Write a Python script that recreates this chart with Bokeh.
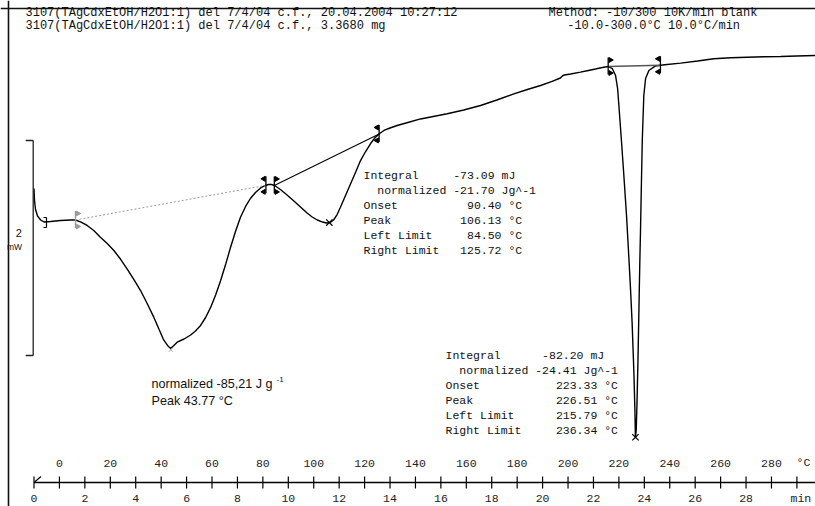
import numpy as np
from bokeh.plotting import figure
from bokeh.models import Range1d, Span
from bokeh.embed import file_html
from bokeh.resources import INLINE
from bokeh.core.properties import value

# ---------------- data ----------------
time_min = [0.00, 0.02, 0.06, 0.14, 0.26, 0.41, 0.65, 1.04, 1.44, 1.63,
            1.85, 2.09, 2.35, 2.61, 2.88, 3.14, 3.40, 3.66, 3.93, 4.19,
            4.45, 4.71, 4.92, 5.10, 5.25, 5.37, 5.50, 5.63, 5.90, 6.16,
            6.35, 6.55, 6.75, 6.95, 7.15, 7.34, 7.54, 7.73, 7.93, 8.12,
            8.32, 8.51, 8.71, 8.91, 9.10, 9.22, 9.34, 9.46, 9.69, 9.95,
            10.22, 10.48, 10.74, 10.94, 11.14, 11.35, 11.50, 11.65, 11.78, 11.92,
            12.05, 12.25, 12.45, 12.65, 12.84, 13.04, 13.23, 13.40, 13.57, 13.76,
            14.00, 14.28, 14.70, 15.20, 15.70, 16.25, 16.90, 17.56, 18.20, 18.87,
            19.40, 19.92, 20.35, 20.70, 20.80, 20.86, 21.10, 21.49, 21.80, 22.08,
            22.35, 22.58, 22.74, 22.87, 22.95, 23.00, 23.10, 23.19, 23.30, 23.39,
            23.46, 23.52, 23.59, 23.63, 23.65, 23.68, 23.71, 23.75, 23.78, 23.82,
            23.85, 23.88, 23.92, 23.98, 24.05, 24.18, 24.44, 24.80, 25.43, 26.10,
            26.73, 27.40, 28.05, 28.70, 29.36, 30.00, 30.73]
heat_flow_mw = [1.600, 1.488, 1.405, 1.344, 1.307, 1.288, 1.293, 1.302, 1.307, 1.307,
                1.288, 1.256, 1.209, 1.147, 1.088, 1.023, 0.944, 0.853, 0.753, 0.651,
                0.530, 0.403, 0.288, 0.191, 0.140, 0.112, 0.140, 0.170, 0.200, 0.237,
                0.274, 0.326, 0.400, 0.496, 0.614, 0.744, 0.898, 1.053, 1.205, 1.333,
                1.433, 1.507, 1.563, 1.605, 1.628, 1.637, 1.637, 1.628, 1.591, 1.540,
                1.484, 1.428, 1.372, 1.335, 1.307, 1.288, 1.279, 1.284, 1.307, 1.358,
                1.426, 1.535, 1.644, 1.753, 1.860, 1.944, 2.016, 2.070, 2.107, 2.140,
                2.163, 2.186, 2.214, 2.247, 2.270, 2.295, 2.330, 2.372, 2.423, 2.481,
                2.521, 2.558, 2.595, 2.628, 2.651, 2.656, 2.665, 2.682, 2.698, 2.712,
                2.726, 2.735, 2.716, 2.651, 2.530, 2.372, 2.047, 1.740, 1.349, 0.967,
                0.651, 0.353, -0.112, -0.465, -0.716, -0.651, -0.419, 0.000, 0.372, 0.884,
                1.209, 1.581, 2.047, 2.465, 2.623, 2.698, 2.740, 2.751, 2.766, 2.786,
                2.807, 2.816, 2.821, 2.825, 2.828, 2.833, 2.837]

T_START_C = -10.0      # method start temperature
RATE_C_PER_MIN = 10.0  # heating rate
SCALE_MW = 2           # scale bar

header_left = ["3107(TAgCdxEtOH/H2O1:1) del 7/4/04 c.f., 20.04.2004 10:27:12",
               "3107(TAgCdxEtOH/H2O1:1) del 7/4/04 c.f., 3.3680 mg"]
header_right = ["Method: -10/300 10K/min blank",
                "-10.0-300.0°C 10.0°C/min"]

peak_temp_c = [43.77, 106.13, 226.51]
left_limit_c = [6.3, 84.50, 215.79]
right_limit_c = [81.2, 125.72, 236.34]

result_labels = ["Integral", "normalized", "Onset", "Peak", "Left Limit", "Right Limit"]
result1_values = ["-73.09 mJ", "-21.70 Jg^-1", "90.40 °C", "106.13 °C", "84.50 °C", "125.72 °C"]
result2_values = ["-82.20 mJ", "-24.41 Jg^-1", "223.33 °C", "226.51 °C", "215.79 °C", "236.34 °C"]
peak1_text = ["normalized -85,21 J g", "Peak 43.77 °C"]
peak1_sup = "-1"

time_ticks = list(range(0, 31))
time_labels = list(range(0, 29, 2))
temp_labels = list(range(0, 281, 20))

# ---------------- figure ----------------
W, H = 815, 506
PXMIN = 25.43     # pixels per minute
PXMW = 107.5      # pixels per mW
X0PX, Y0PX = 33.5, 360.0

def X(px):
    return (px - X0PX) / PXMIN

def Y(py):
    return (Y0PX - py) / PXMW

dx = 1.0 / PXMIN
dy = 1.0 / PXMW

p = figure(width=W, height=H, x_range=Range1d(X(0), X(W)), y_range=Range1d(Y(H), Y(0)),
           output_backend="svg", toolbar_location=None,
           x_axis_location=None, y_axis_location=None, min_border=0)
p.grid.visible = False
p.outline_line_color = None
p.background_fill_color = "white"
p.border_fill_color = "white"

# frame (left + top)
p.add_layout(Span(location=X(8), dimension="height", line_color="#111", line_width=1.6))
p.add_layout(Span(location=Y(8), dimension="width", line_color="#111", line_width=1.6))

t_arr = np.array(time_min)
h_arr = np.array(heat_flow_mw)

def t_of(T):
    return (np.asarray(T, dtype=float) - T_START_C) / RATE_C_PER_MIN

# curve
p.line(t_arr, h_arr, line_color="black", line_width=1.4)

lt = t_of(left_limit_c)
rt = t_of(right_limit_c)
ly = np.interp(lt, t_arr, h_arr)
ry = np.interp(rt, t_arr, h_arr)

# baselines
p.line([lt[0], rt[0]], [ly[0], ry[0]], line_color="#9a9a9a", line_width=1, line_dash="2 2")
p.line([lt[1], rt[1]], [ly[1], ry[1]], line_color="black", line_width=1.1)
p.line([lt[2], rt[2]], [ly[2], ry[2]], line_color="#555555", line_width=1.6)

# limit markers
for i in range(3):
    for tx, yy, sgn in ((lt[i], ly[i], 1), (rt[i], ry[i], -1)):
        col = "#9a9a9a" if (i == 0 and sgn == 1) else "black"
        p.segment(x0=[tx], y0=[yy - 8 * dy], x1=[tx], y1=[yy + 9 * dy], line_color=col, line_width=1.3)
        p.scatter(x=[tx + sgn * 2.2 * dx] * 2, y=[yy + 6.5 * dy, yy - 6.5 * dy], marker="triangle",
                  size=5, angle=-sgn * np.pi / 2, fill_color=col, line_color=col)

# peak crosses
pt = t_of(peak_temp_c)
pyv = np.interp(pt, t_arr, h_arr)
p.scatter(x=[pt[0]], y=[pyv[0] - 1.5 * dy], marker="x", size=6, line_color="#b0b0b0", line_width=1)
p.scatter(x=list(pt[1:]), y=list(pyv[1:]), marker="x", size=9, line_color="black", line_width=1.2)

# small start bracket
bx, by = X(46), Y(222)
p.segment(x0=[bx], y0=[by - 5 * dy], x1=[bx], y1=[by + 5 * dy], line_color="black", line_width=1.2)
p.segment(x0=[bx - 3 * dx, bx - 3 * dx], y0=[by - 5 * dy, by + 5 * dy], x1=[bx, bx], y1=[by - 5 * dy, by + 5 * dy],
          line_color="black", line_width=1.2)

# scale bar
sbx = X(32.7)
sb0 = Y(355)
sb1 = sb0 + SCALE_MW
p.segment(x0=[sbx], y0=[sb0], x1=[sbx], y1=[sb1], line_color="#222", line_width=1.3)
p.segment(x0=[sbx - 7.5 * dx] * 2, y0=[sb0, sb1], x1=[sbx] * 2, y1=[sb0, sb1], line_color="#222", line_width=1.3)
p.text(x=[X(18.3)], y=[Y(232)], text=[str(SCALE_MW)],
       text_font=value("Liberation Sans"), text_font_size="11px", text_align="center",
       text_baseline="middle", text_color="#111")
p.text(x=[X(14)], y=[Y(246.5)], text=["mW"],
       text_font=value("Liberation Sans"), text_font_size="8.5px", text_align="center",
       text_baseline="middle", text_color="#111")

# time / temperature axis
ya = Y(482)
p.line([0, X(W)], [ya, ya], line_color="black", line_width=1.3)
p.segment(x0=time_ticks, y0=[ya - 6 * dy] * len(time_ticks), x1=time_ticks, y1=[ya + 6 * dy] * len(time_ticks),
          line_color="black", line_width=1.2)
p.segment(x0=[0], y0=[ya], x1=[7 * dx], y1=[ya + 6 * dy], line_color="black", line_width=1.2)
mono = value("Liberation Mono")
p.text(x=list(t_of(temp_labels)), y=[Y(463)] * len(temp_labels), text=[str(v) for v in temp_labels],
       text_font=mono, text_font_size="11.5px", text_align="center", text_baseline="middle", text_color="#222")
p.text(x=time_labels, y=[Y(497.5)] * len(time_labels), text=[str(v) for v in time_labels],
       text_font=mono, text_font_size="11.5px", text_align="center", text_baseline="middle", text_color="#222")
p.text(x=[X(796)], y=[Y(462)], text=["°C"], text_font=mono, text_font_size="11.5px",
       text_align="left", text_baseline="middle", text_color="#222")
p.text(x=[X(790)], y=[Y(497.5)], text=["min"], text_font=mono, text_font_size="11.5px",
       text_align="left", text_baseline="middle", text_color="#222")

# header
hy = [Y(12), Y(25.5)]
p.text(x=[X(25)] * 2, y=hy, text=header_left, text_font=mono, text_font_size="12px",
       text_align="left", text_baseline="middle", text_color="#111")
p.text(x=[X(548), X(566.7)], y=hy, text=header_right, text_font=mono, text_font_size="12px",
       text_align="left", text_baseline="middle", text_color="#111")

# result blocks
fs = 11.5
cw = 0.6 * fs * dx

def block(xb, ytop, values, value_cols):
    ys = [ytop - i * 15 * dy for i in range(len(result_labels))]
    lx = [xb + (2 * cw if lab == "normalized" else 0) for lab in result_labels]
    p.text(x=lx, y=ys, text=result_labels, text_font=mono, text_font_size=f"{fs}px",
           text_align="left", text_baseline="middle", text_color="#111")
    p.text(x=[xb + c * cw for c in value_cols], y=ys, text=values, text_font=mono, text_font_size=f"{fs}px",
           text_align="left", text_baseline="middle", text_color="#111")

block(X(363), Y(175), result1_values, [13, 13, 15, 14, 15, 14])
block(X(445), Y(355), result2_values, [14, 13, 16, 16, 16, 16])

# peak 1 annotation
sans = value("Liberation Sans")
p.text(x=[X(151)] * 2, y=[Y(383), Y(400)], text=peak1_text, text_font=sans,
       text_font_size="12.6px", text_align="left", text_baseline="middle", text_color="#111")
p.text(x=[X(276)], y=[Y(379)], text=[peak1_sup], text_font=sans,
       text_font_size="8px", text_align="left", text_baseline="middle", text_color="#111")

open("out.html", "w").write(file_html(p, INLINE))
